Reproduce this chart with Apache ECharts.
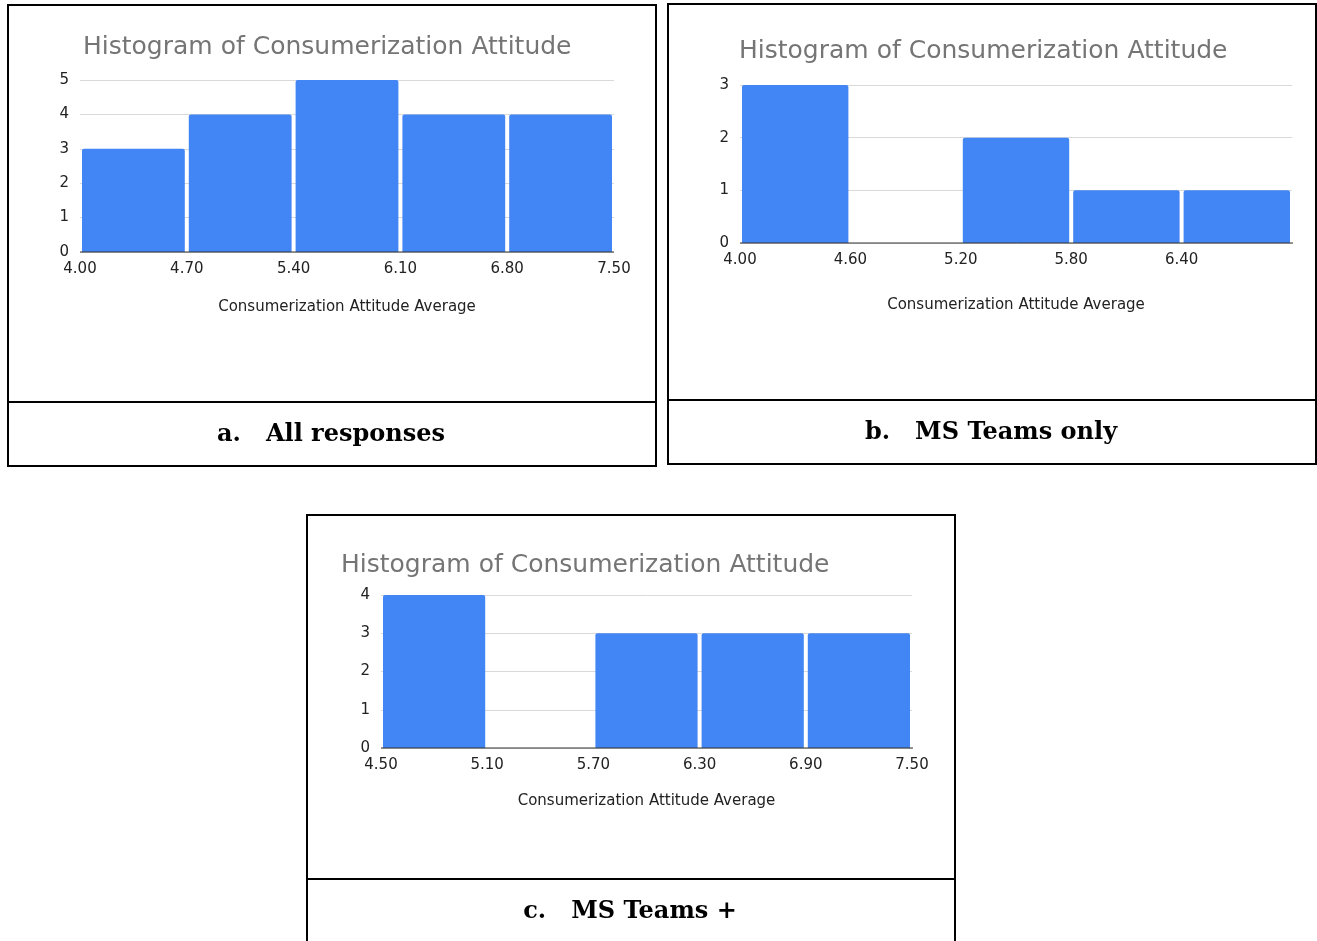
<!DOCTYPE html>
<html>
<head>
<meta charset="utf-8">
<script src="https://cdn.jsdelivr.net/npm/echarts@6/dist/echarts.min.js"></script>
<style>
  html, body { margin: 0; padding: 0; background: #fff; }
  #chart { width: 1317px; height: 941px; }
</style>
</head>
<body>
<div id="chart"></div>
<script>
// bin edges and counts for each histogram
const edgesA = [4.0, 4.7, 5.4, 6.1, 6.8, 7.5];
const countsA = [3, 4, 5, 4, 4];
const ticksA = [4.0, 4.7, 5.4, 6.1, 6.8, 7.5];

const edgesB = [4.0, 4.6, 5.2, 5.8, 6.4, 7.0];
const countsB = [3, 0, 2, 1, 1];
const ticksB = [4.0, 4.6, 5.2, 5.8, 6.4];

const edgesC = [4.5, 5.1, 5.7, 6.3, 6.9, 7.5];
const countsC = [4, 0, 3, 3, 3];
const ticksC = [4.5, 5.1, 5.7, 6.3, 6.9, 7.5];

const chartTitle = "Histogram of Consumerization Attitude";
const axisTitle = "Consumerization Attitude Average";
const captions = ["a.   All responses", "b.   MS Teams only", "c.   MS Teams +"];

const BLUE = "#4285F4";
const SANS = "DejaVu Sans, Verdana, sans-serif";
const SERIF = "DejaVu Serif, Georgia, serif";

function binData(edges, counts) {
  let out = [];
  counts.forEach((c, i) => {
    out.push([edges[i], edges[i + 1], c]);
  });
  return out;
}

function renderBin(params, api) {
  if (api.value(2) === 0) return null;
  let start = api.coord([api.value(0), api.value(2)]);
  let end = api.coord([api.value(1), 0]);
  let x = start[0] + 2;
  let w = end[0] - start[0] - 4;
  return {
    type: "rect",
    shape: { x: x, y: start[1], width: w, height: end[1] - start[1], r: [2, 2, 0, 0] },
    style: { fill: BLUE },
  };
}

// grids in page pixels
const grids = [
  { left: 80, top: 80, width: 534, height: 172 },
  { left: 740, top: 85, width: 552, height: 158 },
  { left: 381, top: 595, width: 531, height: 153 },
];
const xRanges = [
  { min: 4.0, max: 7.5, ticks: ticksA, gap: 48 },
  { min: 4.0, max: 7.0, ticks: ticksB, gap: 55 },
  { min: 4.5, max: 7.5, ticks: ticksC, gap: 46 },
];
const yMax = [5, 3, 4];
const data = [binData(edgesA, countsA), binData(edgesB, countsB), binData(edgesC, countsC)];

let myChart = echarts.init(document.getElementById("chart"));

let option = {
  animation: false,
  title: [
    { left: 83, top: 35 },
    { left: 739, top: 39 },
    { left: 341, top: 553 },
  ].map((p) => ({
    text: chartTitle,
    left: p.left,
    top: p.top,
    padding: 0,
    textStyle: { color: "#757575", fontSize: 25, fontWeight: "normal", fontFamily: SANS },
  })),
  grid: grids.map((g) => Object.assign({ containLabel: false }, g)),
  xAxis: xRanges.map((r, i) => ({
    type: "value",
    gridIndex: i,
    min: r.min,
    max: r.max,
    name: axisTitle,
    nameLocation: "middle",
    nameGap: r.gap,
    nameTextStyle: { color: "#222", fontSize: 15, fontFamily: SANS },
    axisLine: { show: false },
    axisTick: { show: false },
    splitLine: { show: false },
    axisLabel: {
      customValues: r.ticks,
      color: "#222",
      fontSize: 15,
      fontFamily: SANS,
      margin: 10,
      formatter: (v) => v.toFixed(2),
    },
  })),
  yAxis: yMax.map((m, i) => ({
    type: "value",
    gridIndex: i,
    min: 0,
    max: m,
    interval: 1,
    axisLine: { show: false },
    axisTick: { show: false },
    splitLine: { lineStyle: { color: "#d9d9d9", width: 1 } },
    axisLabel: { color: "#222", fontSize: 15, fontFamily: SANS, margin: 11 },
  })),
  series: data.map((d, i) => ({
    type: "custom",
    xAxisIndex: i,
    yAxisIndex: i,
    renderItem: renderBin,
    encode: { x: [0, 1], y: 2 },
    data: d,
    z: 3,
  })),
  graphic: [
    // frames and caption dividers
    { type: "rect", shape: { x: 8, y: 5, width: 648, height: 461 }, style: { fill: null, stroke: "#000", lineWidth: 2 } },
    { type: "line", shape: { x1: 8, y1: 402, x2: 656, y2: 402 }, style: { stroke: "#000", lineWidth: 2 } },
    { type: "rect", shape: { x: 668, y: 4, width: 648, height: 460 }, style: { fill: null, stroke: "#000", lineWidth: 2 } },
    { type: "line", shape: { x1: 668, y1: 400, x2: 1316, y2: 400 }, style: { stroke: "#000", lineWidth: 2 } },
    { type: "rect", shape: { x: 307, y: 515, width: 648, height: 440 }, style: { fill: null, stroke: "#000", lineWidth: 2 } },
    { type: "line", shape: { x1: 307, y1: 879, x2: 955, y2: 879 }, style: { stroke: "#000", lineWidth: 2 } },
    // zero baselines
    { type: "line", z: 10, shape: { x1: 80, y1: 252, x2: 614, y2: 252 }, style: { stroke: "#333", lineWidth: 1 } },
    { type: "line", z: 10, shape: { x1: 740, y1: 243, x2: 1293, y2: 243 }, style: { stroke: "#333", lineWidth: 1 } },
    { type: "line", z: 10, shape: { x1: 381, y1: 748, x2: 913, y2: 748 }, style: { stroke: "#333", lineWidth: 1 } },
    // captions
    { type: "text", x: 331, y: 435, style: { text: captions[0], fill: "#000", font: "bold 24px " + SERIF, textAlign: "center", textVerticalAlign: "middle" } },
    { type: "text", x: 991, y: 433, style: { text: captions[1], fill: "#000", font: "bold 24px " + SERIF, textAlign: "center", textVerticalAlign: "middle" } },
    { type: "text", x: 630, y: 912, style: { text: captions[2], fill: "#000", font: "bold 24px " + SERIF, textAlign: "center", textVerticalAlign: "middle" } },
  ],
};

myChart.setOption(option);
</script>
</body>
</html>
